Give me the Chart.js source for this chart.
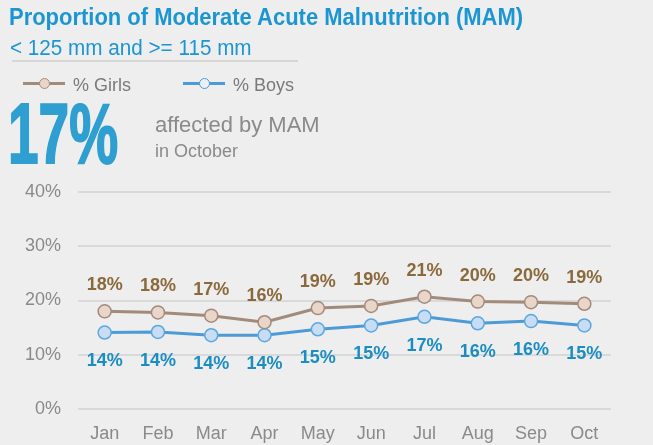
<!DOCTYPE html>
<html>
<head>
<meta charset="utf-8">
<script src="https://cdn.jsdelivr.net/npm/chart.js@4.4.1/dist/chart.umd.min.js"></script>
<style>
    html, body {
        margin: 0;
        padding: 0;
        background: #eeeeee;
        width: 653px;
        height: 445px;
        overflow: hidden;
        font-family: "Liberation Sans", Arial, sans-serif;
    }
    #wrap { position: relative; width: 653px; height: 445px; }
    #chart { position: absolute; left: 0; top: 0; }
    .txt { position: absolute; line-height: 1; white-space: nowrap; transform-origin: left top; }
    .title { left: 9px; top: 6px; font-size: 23px; font-weight: bold; color: #1b96d3; transform: scaleX(0.955); }
    .subtitle { left: 10px; top: 37px; font-size: 22px; color: #1b96d3; transform: scaleX(0.94); }
    .rule { position: absolute; left: 12px; top: 60px; width: 286px; height: 2px; background: #d6d6d6; }
    .leg-line { position: absolute; height: 3px; width: 42px; top: 82px; }
    .leg-dot { position: absolute; width: 11px; height: 11px; border-radius: 50%; top: 78px; box-sizing: border-box; border: 1.5px solid; }
    .leg-txt { top: 76px; font-size: 18px; color: #7a7a7a; }
    .big { left: 8px; top: 90px; font-size: 86px; font-weight: bold; color: #2e9fd0;
           transform: scaleX(0.64); -webkit-text-stroke: 2px #2e9fd0; }
    .aff { left: 155px; top: 114px; font-size: 22px; color: #8a8a8a; }
    .oct { left: 155px; top: 142px; font-size: 18px; color: #8a8a8a; }
</style>
</head>
<body>
<div id="wrap">
    <canvas id="chart" width="653" height="445"></canvas>
    <div class="txt title">Proportion of Moderate Acute Malnutrition (MAM)</div>
    <div class="txt subtitle">&lt; 125 mm and &gt;= 115 mm</div>
    <div class="rule"></div>

    <div class="leg-line" style="left:23px;background:#a38b7b"></div>
    <div class="leg-dot" style="left:39px;background:#e9d6c8;border-color:#a38b7b"></div>
    <div class="txt leg-txt" style="left:73px">% Girls</div>

    <div class="leg-line" style="left:183px;background:#4c9bd6"></div>
    <div class="leg-dot" style="left:199px;background:#eaf0f6;border-color:#4c9bd6"></div>
    <div class="txt leg-txt" style="left:233px">% Boys</div>

    <div class="txt big">17%</div>
    <div class="txt aff">affected by MAM</div>
    <div class="txt oct">in October</div>
</div>

<script>
const months = ["Jan", "Feb", "Mar", "Apr", "May", "Jun", "Jul", "Aug", "Sep", "Oct"];
const girls = [18.0, 17.8, 17.2, 16.0, 18.6, 19.0, 20.7, 19.8, 19.7, 19.4];
const boys = [14.1, 14.2, 13.6, 13.6, 14.7, 15.4, 17.0, 15.8, 16.2, 15.4];
const girlsLabels = ["18%", "18%", "17%", "16%", "19%", "19%", "21%", "20%", "20%", "19%"];
const boysLabels = ["14%", "14%", "14%", "14%", "15%", "15%", "17%", "16%", "16%", "15%"];
const yTicks = [0, 10, 20, 30, 40];

const FONT = "'Liberation Sans', Arial, sans-serif";

// value labels above girls / below boys
const valueLabels = {
    id: "valueLabels",
    afterDatasetsDraw(chart) {
        const ctx = chart.ctx;
        ctx.save();
        ctx.font = "bold 18px " + FONT;
        ctx.textAlign = "center";
        ctx.textBaseline = "middle";
        const sets = [
            {index: 0, labels: girlsLabels, color: "#8a6a3c", dy: -26},
            {index: 1, labels: boysLabels, color: "#1b8dc2", dy: 29}
        ];
        for (const s of sets) {
            const meta = chart.getDatasetMeta(s.index);
            ctx.fillStyle = s.color;
            meta.data.forEach((pt, i) => {
                ctx.fillText(s.labels[i], pt.x, pt.y + s.dy);
            });
        }
        ctx.restore();
    }
};

new Chart(document.getElementById("chart").getContext("2d"), {
    type: "line",
    data: {
        labels: months,
        datasets: [
            {
                label: "% Girls",
                data: girls,
                borderColor: "#a38b7b",
                borderWidth: 3,
                pointRadius: 6.5,
                pointBackgroundColor: "#e9d6c8",
                pointBorderColor: "#a38b7b",
                pointBorderWidth: 1.5,
                fill: false,
                tension: 0
            },
            {
                label: "% Boys",
                data: boys,
                borderColor: "#4c9bd6",
                borderWidth: 3,
                pointRadius: 6.5,
                pointBackgroundColor: "#c8ddf3",
                pointBorderColor: "#5ba8e0",
                pointBorderWidth: 1.5,
                fill: false,
                tension: 0
            }
        ]
    },
    options: {
        animation: false,
        responsive: false,
        layout: {
            padding: {top: 192, right: 42, bottom: 0, left: 0}
        },
        plugins: {
            legend: {display: false},
            tooltip: {enabled: false}
        },
        scales: {
            x: {
                offset: true,
                grid: {display: false, drawTicks: false},
                border: {display: false},
                ticks: {
                    color: "#8a8a8a",
                    font: {family: FONT, size: 18},
                    padding: 14,
                    maxRotation: 0
                },
                afterFit(scale) { scale.height = 36; }
            },
            y: {
                min: 0,
                max: 40,
                afterBuildTicks(scale) {
                    scale.ticks = yTicks.map(v => ({value: v}));
                },
                grid: {color: "#d9d9d9", lineWidth: 2, drawTicks: false},
                border: {display: false},
                ticks: {
                    color: "#8a8a8a",
                    font: {family: FONT, size: 18},
                    padding: 17,
                    callback: v => v + "%"
                },
                afterFit(scale) { scale.width = 78; }
            }
        }
    },
    plugins: [valueLabels]
});
</script>
</body>
</html>
